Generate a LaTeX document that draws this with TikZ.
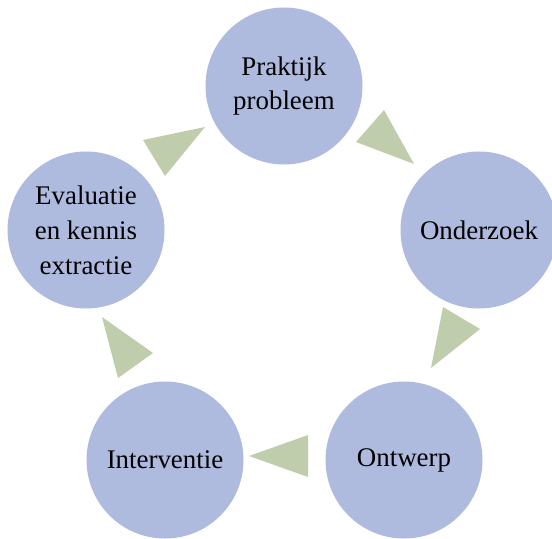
\documentclass[tikz,border=0pt]{standalone}
\usepackage{fontspec}
\setmainfont{Liberation Serif}
\usetikzlibrary{positioning}
\definecolor{stap}{HTML}{AFBADF}
\definecolor{pijl}{HTML}{BFCDAD}

\begin{document}
\begin{tikzpicture}[x=1bp,y=-1bp,
  stapcirkel/.style={circle,fill=stap,minimum size=157bp,inner sep=0pt,
    align=center,font=\fontsize{27}{35}\selectfont},
  pijltje/.style={fill=pijl}]
  \useasboundingbox (0,0) rectangle (552,539);
  % five steps of the cycle
  \node[stapcirkel] (praktijk) at (284,86) {Praktijk\\probleem};
  \node[stapcirkel] (onderzoek) at (479,230) {Onderzoek};
  \node[stapcirkel] (ontwerp) at (404,460) {Ontwerp};
  \node[stapcirkel] (interventie) at (165,460) {Interventie};
  \node[stapcirkel] (evaluatie) at (86,230) {Evaluatie\\en kennis\\extractie};

  % triangles between the steps
  \fill[pijltje] (143,140) -- (205,127) -- (165,176) -- cycle;
  \fill[pijltje] (384,110) -- (414,164) -- (356,142) -- cycle;
  \fill[pijltje] (443,307) -- (480,329) -- (431,368) -- cycle;
  \fill[pijltje] (308,435) -- (308,477) -- (249,456) -- cycle;
  \fill[pijltje] (102,317) -- (153,353) -- (118,378) -- cycle;
\end{tikzpicture}
\end{document}
